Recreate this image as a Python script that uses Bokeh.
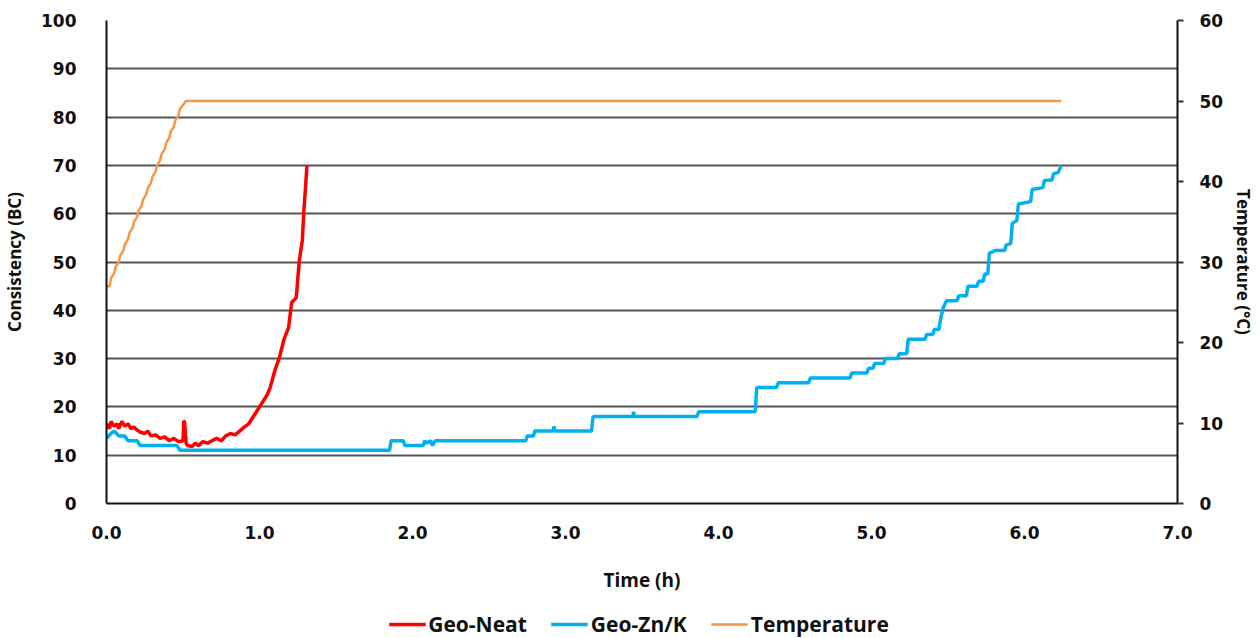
from bokeh.plotting import figure
from bokeh.layouts import column
from bokeh.models import Range1d, LinearAxis, Legend, LegendItem, FixedTicker
from bokeh.embed import file_html
from bokeh.resources import INLINE

# Geo-Neat consistency (BC) vs time (h)
neat_t = [0.00, 0.01, 0.02, 0.03, 0.05, 0.07, 0.08, 0.10, 0.12, 0.14, 0.16, 0.18,
          0.20, 0.22, 0.25, 0.27, 0.29, 0.32, 0.35, 0.38, 0.41, 0.44, 0.47, 0.50,
          0.505, 0.51, 0.52, 0.53, 0.56, 0.58, 0.60, 0.63, 0.66, 0.69, 0.72, 0.75,
          0.78, 0.81, 0.84, 0.87, 0.90, 0.93, 0.96, 0.99, 1.02, 1.05, 1.07, 1.10,
          1.13, 1.16, 1.19, 1.21, 1.24, 1.26, 1.28, 1.29, 1.30, 1.31]
neat_c = [15.5, 16.5, 15.5, 17.0, 16.0, 16.5, 15.5, 17.0, 16.0, 16.5, 15.5, 15.8,
          15.2, 14.8, 14.5, 15.0, 14.0, 14.2, 13.5, 13.8, 13.0, 13.5, 12.8, 13.0,
          17.0, 17.0, 12.5, 12.0, 11.8, 12.5, 12.0, 12.8, 12.5, 13.0, 13.5, 13.0,
          14.0, 14.5, 14.2, 15.0, 15.8, 16.5, 18.0, 19.5, 21.0, 22.5, 24.0, 27.5,
          30.2, 34.0, 36.4, 41.6, 42.6, 50.3, 54.5, 60.7, 65.0, 70.0]

# Geo-Zn/K consistency (BC) vs time (h)
znk_t = [0.00, 0.03, 0.05, 0.08, 0.12, 0.14, 0.20, 0.22, 0.46, 0.48, 1.85, 1.86,
         1.94, 1.95, 2.07, 2.08, 2.09, 2.12, 2.13, 2.15, 2.74, 2.75, 2.79, 2.80,
         2.92, 2.925, 2.93, 3.17, 3.18, 3.44, 3.445, 3.45, 3.86, 3.87, 4.24, 4.25,
         4.38, 4.39, 4.59, 4.60, 4.86, 4.87, 4.97, 4.98, 5.01, 5.02, 5.08, 5.09,
         5.17, 5.18, 5.23, 5.24, 5.35, 5.36, 5.40, 5.41, 5.44, 5.45, 5.47, 5.49,
         5.56, 5.57, 5.62, 5.63, 5.69, 5.70, 5.73, 5.74, 5.76, 5.77, 5.81, 5.87,
         5.88, 5.91, 5.92, 5.95, 5.96, 6.04, 6.05, 6.12, 6.13, 6.18, 6.19, 6.22, 6.24]
znk_c = [13.5, 14.5, 15.0, 14.0, 14.0, 13.0, 13.0, 12.0, 12.0, 11.0, 11.0, 13.0,
         13.0, 12.0, 12.0, 13.0, 12.5, 13.0, 12.0, 13.0, 13.0, 14.0, 14.0, 15.0,
         15.0, 16.0, 15.0, 15.0, 18.0, 18.0, 19.0, 18.0, 18.0, 19.0, 19.0, 24.0,
         24.0, 25.0, 25.0, 26.0, 26.0, 27.0, 27.0, 28.0, 28.0, 29.0, 29.0, 30.0,
         30.0, 31.0, 31.0, 34.0, 34.0, 35.0, 35.0, 36.0, 36.0, 38.0, 40.6, 42.0,
         42.0, 43.0, 43.0, 45.0, 45.0, 46.0, 46.0, 47.5, 47.5, 51.8, 52.4, 52.4,
         53.5, 53.8, 58.0, 58.6, 62.0, 62.5, 65.0, 65.4, 66.9, 67.0, 68.3, 68.5, 70.0]

# Temperature (°C) vs time (h): stepped ramp, then held at 50 °C
temp_t = [0.00, 0.02, 0.03, 0.05, 0.06, 0.08, 0.09, 0.11, 0.12, 0.14, 0.15, 0.17,
          0.18, 0.20, 0.21, 0.23, 0.24, 0.26, 0.27, 0.29, 0.30, 0.32, 0.33, 0.35,
          0.36, 0.38, 0.39, 0.41, 0.42, 0.44, 0.45, 0.47, 0.48, 0.50, 0.52, 6.24]
temp_v = [27.0, 27.0, 28.0, 28.6, 29.4, 30.0, 30.8, 31.4, 32.2, 32.8, 33.6, 34.2,
          35.0, 35.6, 36.4, 37.0, 37.8, 38.4, 39.2, 39.8, 40.6, 41.2, 42.0, 42.6,
          43.4, 44.0, 44.8, 45.4, 46.2, 46.8, 47.6, 48.2, 49.0, 49.5, 50.0, 50.0]

series_names = ["Geo-Neat", "Geo-Zn/K", "Temperature"]
series_colors = ["#FF0000", "#00B0F0", "#F79646"]
series_widths = [3.5, 3.5, 2.5]
series_data = [(neat_t, neat_c), (znk_t, znk_c), (temp_t, temp_v)]

x_ticks = [0, 1, 2, 3, 4, 5, 6, 7]
x_tick_labels = {0: "0.0", 1: "1.0", 2: "2.0", 3: "3.0", 4: "4.0", 5: "5.0", 6: "6.0", 7: "7.0"}
left_ticks = [0, 10, 20, 30, 40, 50, 60, 70, 80, 90, 100]
right_ticks = [0, 10, 20, 30, 40, 50, 60]

FONT = "Open Sans"
TICK_FONT = "DejaVu Sans"
INK = "#111111"

p = figure(frame_width=1071, frame_height=483, output_backend="svg", toolbar_location=None,
           x_range=Range1d(0, 7), y_range=Range1d(0, 100),
           min_border_left=100, min_border_right=89, min_border_top=20,
           min_border_bottom=107)
p.outline_line_color = None
p.background_fill_color = "white"
p.border_fill_color = "white"

p.extra_y_ranges = {"temp": Range1d(0, 60)}

# grid
p.xgrid.grid_line_color = None
p.ygrid.grid_line_color = "#555555"
p.ygrid.grid_line_width = 2
p.ygrid.ticker = FixedTicker(ticks=left_ticks)

# bottom axis
xa = p.xaxis[0]
xa.ticker = FixedTicker(ticks=x_ticks)
xa.major_label_overrides = x_tick_labels
xa.axis_line_color = INK
xa.axis_line_width = 2
xa.major_tick_line_color = None
xa.minor_tick_line_color = None
xa.major_label_standoff = 16
xa.major_label_text_font = TICK_FONT
xa.major_label_text_font_style = "bold"
xa.major_label_text_font_size = "17px"
xa.major_label_text_color = INK
xa.axis_label = "Time (h)"
xa.axis_label_text_font = FONT
xa.axis_label_text_font_style = "bold"
xa.axis_label_text_font_size = "19px"
xa.axis_label_text_color = INK
xa.axis_label_standoff = 25

# left axis
ya = p.yaxis[0]
ya.ticker = FixedTicker(ticks=left_ticks)
ya.axis_line_color = INK
ya.axis_line_width = 2
ya.major_tick_line_color = None
ya.minor_tick_line_color = None
ya.major_label_standoff = 24
ya.major_label_text_font = TICK_FONT
ya.major_label_text_font_style = "bold"
ya.major_label_text_font_size = "17px"
ya.major_label_text_color = INK
ya.axis_label = "Consistency (BC)"
ya.axis_label_text_font = FONT
ya.axis_label_text_font_style = "bold"
ya.axis_label_text_font_size = "17px"
ya.axis_label_text_color = INK
ya.axis_label_standoff = 12

# right axis for temperature
ra = LinearAxis(y_range_name="temp", ticker=FixedTicker(ticks=right_ticks))
ra.axis_line_color = INK
ra.axis_line_width = 2
ra.major_tick_line_color = "#333333"
ra.major_tick_line_width = 2
ra.major_tick_out = 6
ra.major_tick_in = 0
ra.minor_tick_line_color = None
ra.major_label_standoff = 16
ra.major_label_text_font = TICK_FONT
ra.major_label_text_font_style = "bold"
ra.major_label_text_font_size = "17px"
ra.major_label_text_color = INK
ra.axis_label = "Temperature (°C)"
ra.axis_label_text_font = FONT
ra.axis_label_text_font_style = "bold"
ra.axis_label_text_font_size = "17px"
ra.axis_label_text_color = INK
ra.axis_label_standoff = 6
p.add_layout(ra, "right")

# series
p.line(neat_t, neat_c, line_color=series_colors[0], line_width=series_widths[0])
p.line(znk_t, znk_c, line_color=series_colors[1], line_width=series_widths[1])
p.line(temp_t, temp_v, y_range_name="temp", line_color=series_colors[2],
       line_width=series_widths[2])

# legend strip below the chart; its key lines reuse each series, which lies
# outside this strip's own ranges so only the legend keys show
lg = figure(width=1260, height=28, output_backend="svg", toolbar_location=None,
            x_axis_type=None, y_axis_type=None,
            x_range=Range1d(-20, -10), y_range=Range1d(-20, -10), min_border=0)
lg.outline_line_color = None
lg.xgrid.grid_line_color = None
lg.ygrid.grid_line_color = None
keys = [lg.line(t, v, line_color=c, line_width=w)
        for (t, v), c, w in zip(series_data, series_colors, series_widths)]
legend = Legend(items=[LegendItem(label=n, renderers=[r]) for n, r in zip(series_names, keys)],
                orientation="horizontal", location="center",
                border_line_color=None, background_fill_alpha=0,
                label_text_font=FONT, label_text_font_style="bold",
                label_text_font_size="21px", label_text_color=INK,
                label_height=18, glyph_width=37, glyph_height=18, label_standoff=3,
                spacing=24, padding=0, margin=0)
lg.add_layout(legend, "center")

layout = column(p, lg, spacing=0)
open("out.html", "w").write(file_html(layout, INLINE))
